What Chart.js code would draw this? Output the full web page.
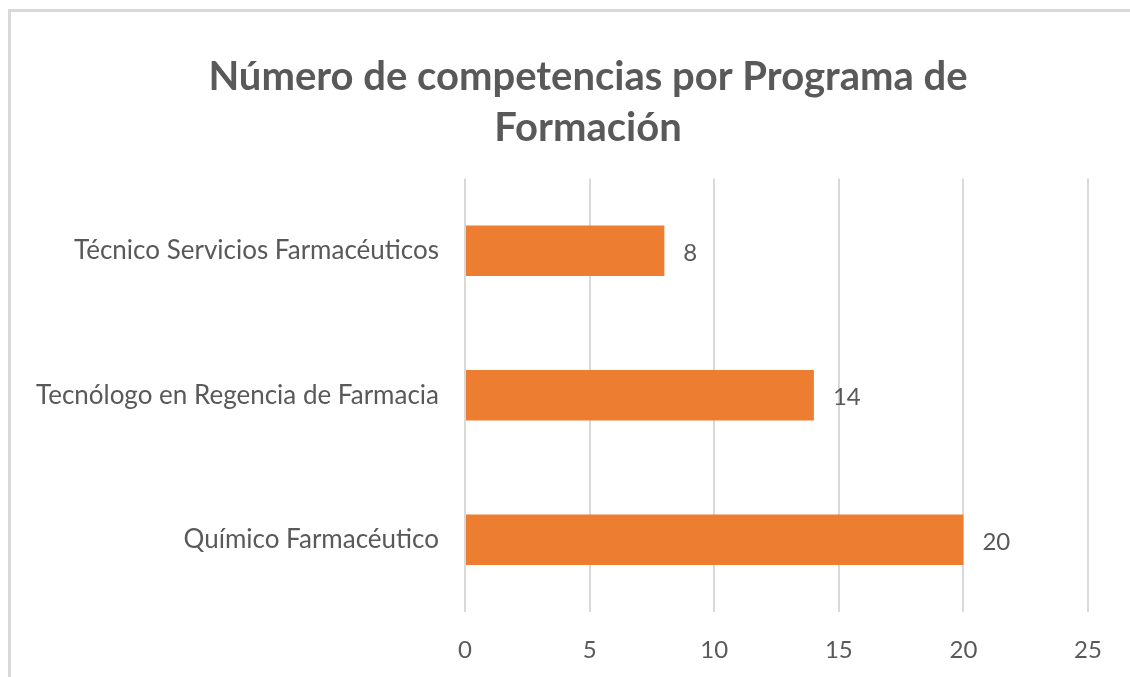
<!DOCTYPE html>
<html>
<head>
<meta charset="utf-8">
<script src="https://cdn.jsdelivr.net/npm/chart.js@4.4.1/dist/chart.umd.min.js"></script>
<style>
  html, body { margin: 0; padding: 0; background: #fff; overflow: hidden; }
  body { width: 1130px; height: 677px; position: relative; }
  /* Frame of the original picture: only top and left edges are visible */
  #frame {
    position: absolute; left: 8px; top: 9px; width: 1200px; height: 700px;
    border: 3px solid #d9d9d9; box-sizing: border-box; background: #fff;
  }
  #wrap { position: absolute; left: 11px; top: 12px; width: 1154px; height: 665px; }
</style>
</head>
<body>
<div id="frame"></div>
<div id="wrap"><canvas id="chart"></canvas></div>
<script>
// Data (top to bottom as drawn).
const programas = [
  "Técnico Servicios Farmacéuticos",
  "Tecnólogo en Regencia de Farmacia",
  "Químico Farmacéutico",
];
const competencias = [8, 14, 20];
const xTicks = [0, 5, 10, 15, 20, 25];

const TEXT = "#595959";
const ORANGE = "#ED7D31";
const GRID = "#d9d9d9";
const FONT = 'Lato, "Open Sans", sans-serif';

// Value labels just right of each bar end.
const valueLabels = {
  id: "valueLabels",
  afterDatasetsDraw(chart) {
    const { ctx } = chart;
    const meta = chart.getDatasetMeta(0);
    ctx.save();
    ctx.font = "24px " + FONT;
    ctx.fillStyle = TEXT;
    ctx.textAlign = "left";
    ctx.textBaseline = "middle";
    meta.data.forEach((bar, i) => {
      ctx.fillText(String(competencias[i]), bar.x + 19, bar.y + 2);
    });
    ctx.restore();
  },
};

new Chart(document.getElementById("chart").getContext("2d"), {
  type: "bar",
  data: {
    labels: programas,
    datasets: [{
      data: competencias,
      backgroundColor: ORANGE,
      borderWidth: 0,
      categoryPercentage: 1,
      barPercentage: 0.35,
    }],
  },
  options: {
    indexAxis: "y",
    responsive: true,
    maintainAspectRatio: false,
    animation: false,
    layout: { padding: 0 },
    plugins: {
      legend: { display: false },
      tooltip: { enabled: false },
      title: {
        display: true,
        text: ["Número de competencias por Programa de", "Formación"],
        color: TEXT,
        font: { family: FONT, size: 40, weight: "bold", lineHeight: 1.27 },
        padding: { top: 40, bottom: 25 },
      },
    },
    scales: {
      x: {
        min: 0,
        max: 25,
        afterBuildTicks(axis) { axis.ticks = xTicks.map(v => ({ value: v })); },
        afterFit(axis) { axis.height = 65; },
        grid: { color: GRID, lineWidth: 2, drawTicks: false },
        border: { display: false },
        ticks: { color: TEXT, font: { family: FONT, size: 24 }, padding: 24 },
      },
      y: {
        afterFit(axis) { axis.width = 454; },
        grid: { display: false, drawTicks: false },
        border: { display: false },
        ticks: { color: TEXT, font: { family: FONT, size: 26 }, padding: 26 },
      },
      // empty right-hand spacer so the plot ends at 25 while the title stays centred
      spacer: {
        type: "category",
        axis: "y",
        position: "right",
        afterFit(axis) { axis.width = 77; },
        grid: { display: false, drawTicks: false },
        border: { display: false },
        ticks: { display: false },
      },
    },
  },
  plugins: [valueLabels],
});
</script>
</body>
</html>
